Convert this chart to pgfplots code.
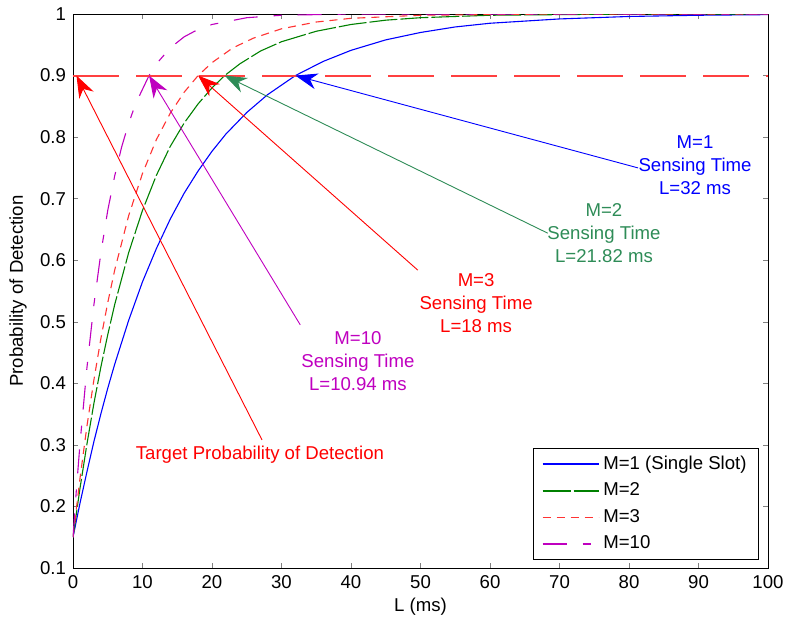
\documentclass[border=0pt]{standalone}
\usepackage{pgfplots}
\pgfplotsset{compat=1.18}
\usepackage{fontspec}
\setmainfont{Liberation Sans}
\usetikzlibrary{arrows.meta}
\definecolor{mgreen}{rgb}{0,0.5,0}
\definecolor{sgreen}{rgb}{0.18,0.55,0.34}
\definecolor{mmag}{rgb}{0.75,0,0.75}
\definecolor{lred}{rgb}{1,0.2,0.2}
\begin{document}
\begin{tikzpicture}
\useasboundingbox (-36.5pt,-27.5pt) rectangle (356.5pt,284pt);
\begin{axis}[
  scale only axis, width=347.5pt, height=277pt,
  xmin=0, xmax=100, ymin=0.1, ymax=1,
  xtick={0,10,...,100}, ytick={0.1,0.2,...,1.0},
  tick align=inside, major tick length=2.5pt,
  font=\fontsize{9.3}{11.5}\selectfont,
  /pgf/number format/assume math mode=true,
  yticklabel style={/pgf/number format/fixed},
  xlabel={L (ms)}, ylabel={Probability of Detection},
  xlabel style={at={(axis description cs:0.5,-0.0704)},anchor=center},
  ylabel style={at={(axis description cs:-0.079,0.5)},anchor=center},
  legend cell align=left,
  legend style={at={(rel axis cs:0.987,0.0145)}, anchor=south east, draw=black, fill=white,
    font=\fontsize{9.3}{11.5}\selectfont, row sep=1.3pt, inner xsep=4pt, inner ysep=1.8pt},
  legend image code/.code={\draw[#1, line width=0.85pt] (0pt,0pt) -- (28pt,0pt);},
]
\addplot[color=blue, line width=0.55pt] coordinates {
(0,0.15)(1,0.205)(2,0.256)(3,0.305)(4,0.350)(5,0.392)(6,0.431)(8,0.502)(10,0.565)
(12,0.619)(14,0.667)(16,0.709)(18,0.745)(20,0.777)(22,0.805)(25,0.840)(28,0.869)
(32,0.900)(36,0.923)(40,0.941)(45,0.958)(50,0.970)(55,0.979)(60,0.985)(70,0.992)
(80,0.996)(90,0.998)(100,0.999)};
\addlegendentry{M=1 (Single Slot)}
\addplot[color=mgreen, line width=0.55pt, dash pattern=on 14pt off 1.5pt] coordinates {
(0,0.15)(1,0.229)(2,0.301)(3,0.367)(4,0.426)(5,0.479)(6,0.528)(8,0.612)(10,0.681)
(12,0.738)(14,0.785)(16,0.823)(18,0.854)(20,0.880)(21.82,0.900)(24,0.919)(27,0.940)
(30,0.955)(35,0.972)(40,0.983)(45,0.990)(50,0.994)(60,0.998)(70,0.999)(80,1.0)(90,1.0)(100,1.0)};
\addlegendentry{M=2}
\addplot[color=lred, line width=0.55pt, dash pattern=on 4pt off 3pt] coordinates {
(0,0.15)(1,0.245)(2,0.330)(3,0.405)(4,0.472)(5,0.531)(6,0.584)(8,0.672)(10,0.741)
(12,0.796)(14,0.839)(16,0.873)(18,0.900)(20,0.921)(23,0.945)(26,0.961)(30,0.976)
(35,0.987)(40,0.993)(50,0.998)(60,0.999)(70,1.0)(80,1.0)(90,1.0)(100,1.0)};
\addlegendentry{M=3}
\addplot[color=mmag, line width=0.55pt, dash pattern=on 12pt off 8pt on 4pt off 8pt] coordinates {
(0,0.15)(0.5,0.229)(1,0.301)(2,0.425)(3,0.527)(4,0.611)(5,0.681)(6,0.737)(7,0.784)
(8,0.822)(9,0.854)(10.94,0.900)(12,0.919)(14,0.945)(16,0.963)(18,0.975)(20,0.983)
(25,0.994)(30,0.998)(40,1.0)(50,1.0)(60,1.0)(70,1.0)(80,1.0)(90,1.0)(100,1.0)};
\addlegendentry{M=10}
\addplot[color=red!75, line width=1.05pt, dash pattern=on 23pt off 8.5pt, forget plot] coordinates {(0,0.9)(100,0.9)};

\tikzset{ah/.style={-{Stealth[length=11pt,width=8pt,inset=3.5pt]}, line width=0.45pt}}
\draw[ah, blue] (axis cs:81.3,0.750) -- (axis cs:32,0.9);
\draw[ah, sgreen] (axis cs:68.3,0.644) -- (axis cs:21.82,0.9);
\draw[ah, red] (axis cs:49.6,0.584) -- (axis cs:18,0.9);
\draw[ah, mmag] (axis cs:32.7,0.495) -- (axis cs:10.94,0.9);
\draw[ah, red] (axis cs:27.2,0.308) -- (axis cs:0.5,0.9);

\node[align=center, text=blue, inner sep=0pt] at (axis cs:89.5,0.755) {M=1\\Sensing Time\\L=32 ms};
\node[align=center, text=sgreen, inner sep=0pt] at (axis cs:76.4,0.644) {M=2\\Sensing Time\\L=21.82 ms};
\node[align=center, text=red, inner sep=0pt] at (axis cs:58.0,0.5305) {M=3\\Sensing Time\\L=18 ms};
\node[align=center, text=mmag, inner sep=0pt] at (axis cs:41.0,0.436) {M=10\\Sensing Time\\L=10.94 ms};
\node[text=red, inner sep=0pt] at (axis cs:26.9,0.284) {Target Probability of Detection};
\end{axis}
\end{tikzpicture}
\end{document}
